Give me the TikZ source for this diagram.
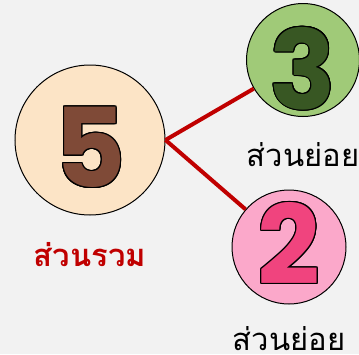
\documentclass[tikz,border=0pt]{standalone}
\usepackage{fontspec}
\setmainfont{Open Sans}
\newfontfamily\thaifont[Script=Thai]{Loma}
\newfontfamily\digitfont{Poppins}
\usepackage[copies]{contour}
\contourlength{1.1pt}
\usetikzlibrary{positioning}
\definecolor{bgGray}{HTML}{F2F2F2}
\definecolor{wholeFill}{HTML}{FCE4C6}
\definecolor{wholeDigit}{HTML}{7F4A37}
\definecolor{partAFill}{HTML}{A0CA78}
\definecolor{partADigit}{HTML}{385723}
\definecolor{partBFill}{HTML}{FBA8CA}
\definecolor{partBDigit}{HTML}{F0447E}
\definecolor{linkRed}{HTML}{C00000}

\begin{document}
\begin{tikzpicture}[x=1pt,y=-1pt,node distance=6pt,
  ball/.style={circle,draw=black,line width=1pt,inner sep=0pt},
  digit/.style={font=\digitfont\bfseries\fontsize{110}{110}\selectfont},
  partlabel/.style={font=\thaifont\fontsize{31}{33}\selectfont}]
\fill[bgGray] (0,0) rectangle (359,354);
\useasboundingbox (0,0) rectangle (359,354);
\node[ball,fill=wholeFill,minimum size=150pt,
  label={[digit,text=wholeDigit,yshift=-8pt]center:\contour{black}{5}}] (whole) at (90,140) {};
\node[ball,fill=partAFill,minimum size=113pt,
  label={[digit,text=partADigit,yshift=-9pt]center:\contour{black}{3}}] (partA) at (303,60) {};
\node[ball,fill=partBFill,minimum size=114pt,
  label={[digit,text=partBDigit,yshift=3pt]center:\contour{black}{2}}] (partB) at (289,247) {};
\draw[linkRed,line width=4pt] (whole.east) -- (partA);
\draw[linkRed,line width=4pt] (whole.east) -- (partB);
\node[partlabel,text=linkRed,font=\thaifont\bfseries\fontsize{31}{33}\selectfont,below=23pt of whole] (wholeLabel) {ส่วนรวม};
\node[partlabel,below=22pt of partA] (partALabel) {ส่วนย่อย};
\node[partlabel,below=18pt of partB] (partBLabel) {ส่วนย่อย};
\end{tikzpicture}
\end{document}
